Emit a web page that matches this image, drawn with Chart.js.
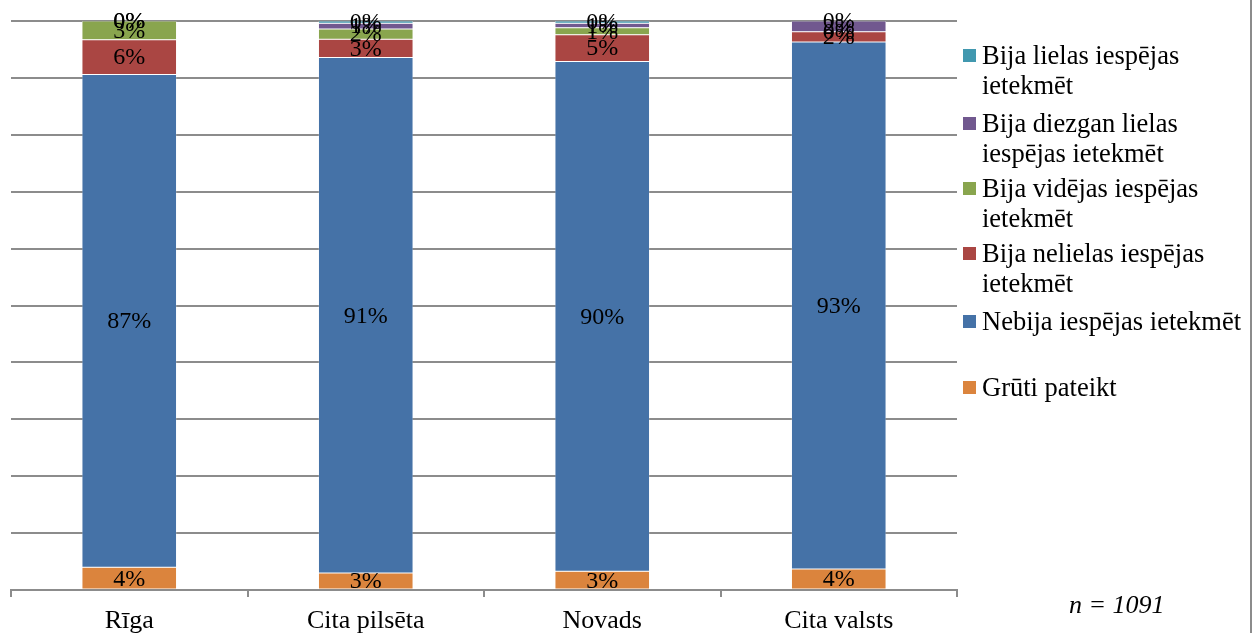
<!DOCTYPE html>
<html>
<head>
<meta charset="utf-8">
<script src="https://cdn.jsdelivr.net/npm/chart.js@4/dist/chart.umd.min.js"></script>
<style>
  html, body { margin: 0; padding: 0; background: #fff; }
  #wrap { position: relative; width: 1255px; height: 633px; overflow: hidden; font-family: "Liberation Serif", "Times New Roman", serif; }
  #c { position: absolute; left: 0; top: 0; width: 1255px; height: 645px; }
  #border { position: absolute; left: 1250px; top: 0; width: 2px; height: 633px; background: #8c8c8c; }
  .lg { position: absolute; left: 963px; font-size: 26.5px; line-height: 30px; color: #000; }
  .lg .sw { position: absolute; left: 0; top: 9px; width: 13px; height: 13px; }
  .lg .tx { position: absolute; left: 19px; width: 280px; white-space: nowrap; }
  #n { position: absolute; left: 1069px; top: 590px; font-size: 26px; font-style: italic; }
</style>
</head>
<body>
<div id="wrap">
  <canvas id="c" width="1255" height="645"></canvas>
  <div id="border"></div>
  <div id="legend"></div>
  <div id="n">n = 1091</div>
</div>
<script>
const categories = ["Rīga", "Cita pilsēta", "Novads", "Cita valsts"];
const seriesNames = [
  "Grūti pateikt",
  "Nebija iespējas ietekmēt",
  "Bija nelielas iespējas ietekmēt",
  "Bija vidējas iespējas ietekmēt",
  "Bija diezgan lielas iespējas ietekmēt",
  "Bija lielas iespējas ietekmēt"
];
const grutiPateikt = [4.0, 3.0, 3.3, 3.7];
const nebija = [86.6, 90.6, 89.6, 92.6];
const nelielas = [6.1, 3.2, 4.7, 1.8];
const videjas = [3.3, 1.8, 1.2, 0.0];
const diezgan = [0.0, 1.0, 0.8, 1.9];
const lielas = [0.0, 0.4, 0.4, 0.0];
const colors = ["#DB843D", "#4572A7", "#AA4643", "#89A54E", "#71588F", "#4198AF"];
// legend text lines (wrapped as in the original)
const legendLines = [
  ["Bija lielas iespējas", "ietekmēt"],
  ["Bija diezgan lielas", "iespējas ietekmēt"],
  ["Bija vidējas iespējas", "ietekmēt"],
  ["Bija nelielas iespējas", "ietekmēt"],
  ["Nebija iespējas ietekmēt"],
  ["Grūti pateikt"]
];

const seriesValues = [grutiPateikt, nebija, nelielas, videjas, diezgan, lielas];

// HTML legend (reverse order)
const legendTops = [40, 108, 173, 238, 306, 372];
const lgRoot = document.getElementById('legend');
legendLines.forEach((lines, i) => {
  const colorIdx = seriesNames.length - 1 - i;
  const d = document.createElement('div');
  d.className = 'lg';
  d.style.top = legendTops[i] + 'px';
  const sw = document.createElement('div');
  sw.className = 'sw';
  sw.style.background = colors[colorIdx];
  d.appendChild(sw);
  const t = document.createElement('div');
  t.className = 'tx';
  t.innerHTML = lines.join('<br>');
  d.appendChild(t);
  lgRoot.appendChild(d);
});

const labelPlugin = {
  id: 'segLabels',
  afterDatasetsDraw(chart) {
    const ctx = chart.ctx;
    ctx.save();
    ctx.font = '24px "Liberation Serif", "Times New Roman", serif';
    ctx.fillStyle = '#000';
    ctx.textAlign = 'center';
    ctx.textBaseline = 'middle';
    chart.data.datasets.forEach((ds, di) => {
      const meta = chart.getDatasetMeta(di);
      meta.data.forEach((bar, i) => {
        const v = ds.data[i];
        const y = (bar.y + bar.base) / 2;
        ctx.fillText(Math.round(v) + '%', bar.x, y + 1);
      });
    });
    ctx.restore();
  }
};

new Chart(document.getElementById('c'), {
  type: 'bar',
  data: {
    labels: categories,
    datasets: seriesNames.map((name, i) => ({
      label: name,
      data: seriesValues[i],
      backgroundColor: colors[i],
      borderColor: 'rgba(255,255,255,0.6)',
      borderWidth: 0.5,
      borderSkipped: false,
      categoryPercentage: 1.0,
      barPercentage: 0.4
    }))
  },
  options: {
    responsive: false,
    animation: false,
    devicePixelRatio: 1,
    layout: { padding: { left: 11, right: 298, top: 21, bottom: 0 } },
    plugins: { legend: { display: false }, tooltip: { enabled: false } },
    scales: {
      x: {
        stacked: true,
        grid: { display: true, drawOnChartArea: false, drawTicks: true, tickLength: 7, color: '#8c8c8c', lineWidth: 2, offset: true },
        border: { display: true, color: '#8c8c8c', width: 2 },
        ticks: { color: '#000', font: { family: '"Liberation Serif", "Times New Roman", serif', size: 26, lineHeight: 1.15 }, padding: 9 }
      },
      y: {
        stacked: true,
        min: 0, max: 100,
        ticks: { display: false, stepSize: 10 },
        grid: { color: '#8c8c8c', lineWidth: 2, drawTicks: false },
        border: { display: false }
      }
    }
  },
  plugins: [labelPlugin]
});
</script>
</body>
</html>
